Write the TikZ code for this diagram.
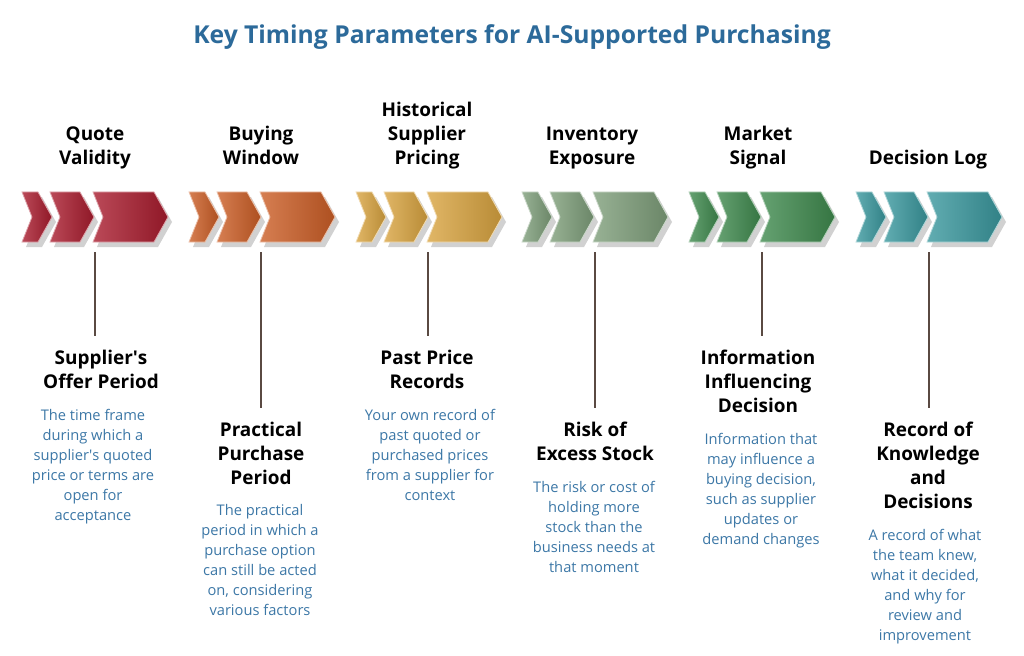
\documentclass[tikz,border=0pt]{standalone}
\usepackage{fontspec}
\setmainfont{Open Sans}
\usetikzlibrary{calc}
\definecolor{ttl}{HTML}{2C6A9A}
\definecolor{body}{HTML}{3C77A6}
\definecolor{ln}{HTML}{5A4A42}
\definecolor{c1}{HTML}{A91C2E}
\definecolor{c2}{HTML}{CC5E26}
\definecolor{c3}{HTML}{D9A440}
\definecolor{c4}{HTML}{7E9E7A}
\definecolor{c5}{HTML}{3F8A4E}
\definecolor{c6}{HTML}{3A989E}
\tikzset{
 head/.style={anchor=north,align=center,font=\fontsize{14.2}{18}\selectfont\bfseries,text=black,inner sep=0pt},
 tophead/.style={head,anchor=south},
 bodytxt/.style={anchor=north,align=center,font=\fontsize{11}{15}\selectfont,text=body,inner sep=0pt},
 conn/.style={draw=ln,line width=1pt},
}
\newcommand{\onechev}[4]{% x0, a, b, color
 \fill[black,opacity=0.18] ($(#1+#2+4,197)$) -- ($(#1+#3-10,197)$) -- ($(#1+#3+4,222)$) -- ($(#1+#3-10,247)$) -- ($(#1+#2+4,247)$) -- ($(#1+#2+14,222)$) -- cycle;
 \shade[left color=#4!80!white,right color=#4!85!black,draw=#4!40!white,line width=0.6pt] ($(#1+#2,192)$) -- ($(#1+#3-14,192)$) -- ($(#1+#3,217)$) -- ($(#1+#3-14,242)$) -- ($(#1+#2,242)$) -- ($(#1+#2+10,217)$) -- cycle;}
\newcommand{\grp}[2]{\onechev{#1}{0}{30}{#2}\onechev{#1}{28}{72}{#2}\onechev{#1}{71}{146}{#2}}
\newcommand{\ap}{\textquotesingle}
\begin{document}
\begin{tikzpicture}[x=0.75pt,y=-0.75pt]
\useasboundingbox (0,0) rectangle (1024,656);
\node[font=\fontsize{18.5}{20}\selectfont\bfseries,text=ttl] (title) at (512,37) {Key Timing Parameters for AI-Supported Purchasing};
\grp{22}{c1}\grp{189}{c2}\grp{356}{c3}\grp{522}{c4}\grp{689}{c5}\grp{856}{c6}
% top labels
\node[tophead] (t1) at (95,172) {Quote\\Validity\strut};
\node[tophead] (t2) at (261,172) {Buying\\Window\strut};
\node[tophead] (t3) at (427,172) {Historical\\Supplier\\Pricing\strut};
\node[tophead] (t4) at (592,172) {Inventory\\Exposure\strut};
\node[tophead] (t5) at (758,172) {Market\\Signal\strut};
\node[tophead] (t6) at (928,172) {Decision Log\strut};
% connector anchors
\coordinate (s1) at (95,252); \coordinate (s2) at (261,252); \coordinate (s3) at (428,252);
\coordinate (s4) at (595,252); \coordinate (s5) at (762,252); \coordinate (s6) at (929,252);
% bottom headings
\node[head] (h1) at (101,350) {Supplier\ap s\\Offer Period};
\node[head] (h2) at (261,422) {Practical\\Purchase\\Period};
\node[head] (h3) at (427,350) {Past Price\\Records};
\node[head] (h4) at (595,422) {Risk of\\Excess Stock};
\node[head] (h5) at (758,350) {Information\\Influencing\\Decision};
\node[head] (h6) at (928,422) {Record of\\Knowledge\\and\\Decisions};
\draw[conn] (s1) -- ($(h1.north)+(-6,-14)$) coordinate (e1);
\draw[conn] (s2) -- ($(h2.north)+(0,-14)$) coordinate (e2);
\draw[conn] (s3) -- ($(h3.north)+(1,-14)$) coordinate (e3);
\draw[conn] (s4) -- ($(h4.north)+(0,-14)$) coordinate (e4);
\draw[conn] (s5) -- ($(h5.north)+(4,-14)$) coordinate (e5);
\draw[conn] (s6) -- ($(h6.north)+(1,-14)$) coordinate (e6);
% bodies
\node[bodytxt] (b1) at (93,409) {The time frame\\during which a\\supplier\ap s quoted\\price or terms are\\open for\\acceptance};
\node[bodytxt] (b2) at (260,504) {The practical\\period in which a\\purchase option\\can still be acted\\on, considering\\various factors};
\node[bodytxt] (b3) at (430,409) {Your own record of\\past quoted or\\purchased prices\\from a supplier for\\context};
\node[bodytxt] (b4) at (594,481) {The risk or cost of\\holding more\\stock than the\\business needs at\\that moment};
\node[bodytxt] (b5) at (761,433) {Information that\\may influence a\\buying decision,\\such as supplier\\updates or\\demand changes};
\node[bodytxt] (b6) at (925,529) {A record of what\\the team knew,\\what it decided,\\and why for\\review and\\improvement};
\end{tikzpicture}
\end{document}
